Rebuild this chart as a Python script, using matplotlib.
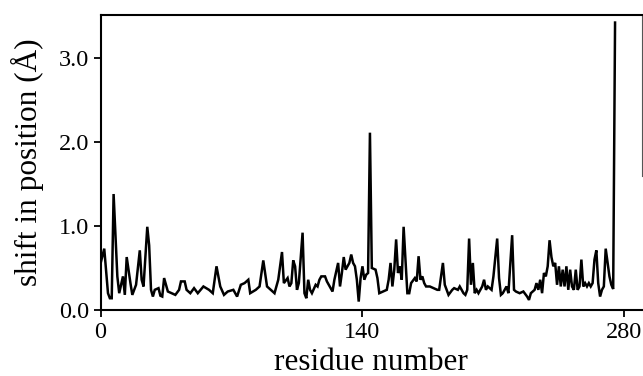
import matplotlib
matplotlib.use("Agg")
import matplotlib.pyplot as plt

residue = [0, 2, 4, 5, 6, 7, 9, 10, 12, 13, 14, 16, 17, 19, 21, 22, 23, 25, 26, 27,
           28, 29, 31, 32, 33, 34, 36, 38, 40, 42, 43, 45, 46, 48, 50, 52, 55, 58, 60, 62,
           64, 66, 68, 71, 73, 75, 77, 79, 80, 83, 85, 87, 89, 91, 93, 95, 97, 98, 100, 101,
           102, 103, 104, 105, 106, 108, 109, 110, 111, 112, 113, 115, 116, 117, 118, 120, 121, 123, 124, 125,
           127, 128, 129, 130, 131, 132, 133, 134, 135, 136, 137, 138, 139, 140, 141, 142, 143, 144, 145, 147,
           148, 149, 151, 153, 154, 155, 156, 157, 158, 159, 160, 161, 162, 164, 165, 166, 168, 169, 170, 171,
           172, 173, 174, 176, 178, 180, 181, 183, 184, 186, 188, 189, 191, 192, 194, 195, 196, 197, 198, 199,
           200, 201, 202, 204, 205, 206, 207, 209, 210, 212, 213, 214, 215, 217, 218, 220, 221, 222, 224, 226,
           228, 229, 230, 232, 233, 234, 235, 236, 237, 238, 239, 240, 241, 242, 243, 244, 245, 246, 247, 248,
           249, 250, 251, 252, 253, 254, 255, 256, 257, 258, 259, 260, 261, 262, 263, 264, 265, 266, 267, 268,
           269, 270, 271, 272, 273, 274, 275]
shift = [0.55, 0.73, 0.20, 0.14, 0.14, 1.38, 0.40, 0.20, 0.40, 0.18, 0.63, 0.32, 0.18, 0.30, 0.71, 0.36, 0.28, 0.99, 0.77, 0.24,
         0.16, 0.24, 0.26, 0.17, 0.16, 0.38, 0.22, 0.20, 0.18, 0.24, 0.34, 0.34, 0.24, 0.20, 0.26, 0.20, 0.28, 0.24, 0.20, 0.52,
         0.28, 0.18, 0.22, 0.24, 0.16, 0.30, 0.32, 0.36, 0.20, 0.24, 0.28, 0.59, 0.28, 0.24, 0.20, 0.36, 0.69, 0.32, 0.38, 0.28,
         0.32, 0.59, 0.52, 0.24, 0.32, 0.92, 0.20, 0.14, 0.36, 0.24, 0.20, 0.30, 0.28, 0.36, 0.40, 0.40, 0.34, 0.26, 0.22, 0.36,
         0.56, 0.28, 0.44, 0.63, 0.48, 0.52, 0.56, 0.66, 0.56, 0.52, 0.36, 0.10, 0.38, 0.52, 0.36, 0.42, 0.44, 2.11, 0.50, 0.48,
         0.38, 0.20, 0.22, 0.24, 0.36, 0.56, 0.28, 0.48, 0.84, 0.44, 0.52, 0.36, 0.99, 0.20, 0.20, 0.32, 0.38, 0.34, 0.64, 0.36,
         0.40, 0.32, 0.28, 0.28, 0.26, 0.24, 0.24, 0.56, 0.30, 0.18, 0.24, 0.26, 0.24, 0.28, 0.20, 0.18, 0.24, 0.85, 0.30, 0.56,
         0.20, 0.24, 0.20, 0.28, 0.36, 0.24, 0.28, 0.24, 0.40, 0.85, 0.38, 0.18, 0.20, 0.28, 0.20, 0.89, 0.24, 0.22, 0.20, 0.22,
         0.16, 0.12, 0.20, 0.24, 0.32, 0.24, 0.36, 0.20, 0.44, 0.40, 0.52, 0.83, 0.63, 0.52, 0.56, 0.30, 0.52, 0.28, 0.48, 0.28,
         0.52, 0.24, 0.48, 0.28, 0.24, 0.48, 0.24, 0.28, 0.60, 0.28, 0.32, 0.28, 0.32, 0.28, 0.32, 0.60, 0.71, 0.32, 0.16, 0.24,
         0.28, 0.73, 0.56, 0.40, 0.30, 0.25, 3.42]

xticks = [0, 140, 280]
yticks = [0.0, 1.0, 2.0, 3.0]
ytick_labels = ["0.0", "1.0", "2.0", "3.0"]

plt.rcParams['font.family'] = ['Liberation Serif', 'DejaVu Serif']

fig = plt.figure(figsize=(6.43, 3.76), dpi=100)
ax = fig.add_axes([100.5 / 643, (376 - 310) / 376, (642 - 100.5) / 643, (310 - 15) / 376])

ax.plot(residue, shift, color='black', linewidth=1.8, solid_joinstyle='miter')

ax.set_xlim(0, 289.4)
ax.set_ylim(0, 3.51)
ax.set_xticks(xticks)
ax.set_xticklabels([str(t) for t in xticks])
ax.set_yticks(yticks)
ax.set_yticklabels(ytick_labels)

ax.tick_params(axis='both', direction='out', length=5, width=1.3, labelsize=17.5, pad=3, colors='black')
ax.tick_params(axis='x', pad=4)

for side in ['left', 'bottom', 'top']:
    ax.spines[side].set_linewidth(1.5)
ax.spines['right'].set_linewidth(0.8)
ax.spines['right'].set_color('#555555')
ax.spines['right'].set_bounds(1.6, 3.51)

ax.set_xlabel('residue number', fontsize=22.5, labelpad=3)
ax.set_ylabel('shift in position (Å)', fontsize=22.5, labelpad=11)

fig.savefig('out.png', dpi=100)
